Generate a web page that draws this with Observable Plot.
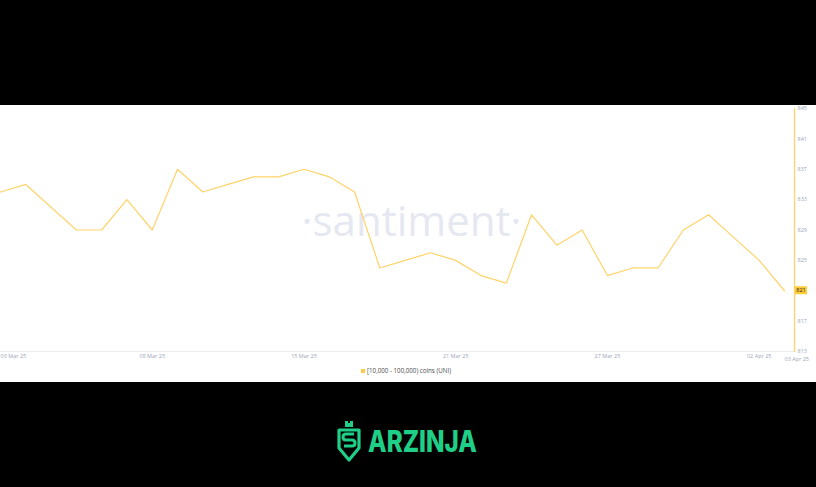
<!DOCTYPE html>
<html>
<head>
<meta charset="utf-8">
<script src="https://cdn.jsdelivr.net/npm/d3@7"></script>
<script src="https://cdn.jsdelivr.net/npm/@observablehq/plot@0.6"></script>
<style>
  html, body { margin: 0; padding: 0; background: #000; }
  body { width: 816px; height: 487px; overflow: hidden; position: relative; font-family: "Open Sans", "Noto Sans", sans-serif; }
  #panel { position: absolute; left: 0; top: 105px; width: 816px; height: 277px; background: #fff; }
  #chart svg { display: block; overflow: visible; }
  #legend { height: 17px; display: flex; align-items: center; justify-content: center; font-size: 6.2px; color: #4a4a4a; margin-left: -4px; }
  #legend .sw { width: 4px; height: 4px; background: #ffcb47; margin-right: 2px; }
  #logo { position: absolute; left: 0; top: 0; }
</style>
</head>
<body>
<div id="panel">
  <div id="chart"></div>
  <div id="legend"><span class="sw"></span><span id="legendText"></span></div>
</div>
<svg id="logo" width="816" height="487" viewBox="0 0 816 487"></svg>
<script>
// ---- data ----
const dates = [
  "2025-03-03","2025-03-04","2025-03-05","2025-03-06","2025-03-07","2025-03-08","2025-03-09","2025-03-10",
  "2025-03-11","2025-03-12","2025-03-13","2025-03-14","2025-03-15","2025-03-16","2025-03-17","2025-03-18",
  "2025-03-19","2025-03-20","2025-03-21","2025-03-22","2025-03-23","2025-03-24","2025-03-25","2025-03-26",
  "2025-03-27","2025-03-28","2025-03-29","2025-03-30","2025-03-31","2025-04-01","2025-04-02","2025-04-03"
];
const holders = [
  834, 835, 832, 829, 829, 833, 829, 837,
  834, 835, 836, 836, 837, 836, 834, 824,
  825, 826, 825, 823, 822, 831, 827, 829,
  823, 824, 824, 829, 831, 828, 825, 821
];
const seriesName = "[10,000 - 100,000) coins (UNI)";
const xTickDates = ["2025-03-09","2025-03-15","2025-03-21","2025-03-27","2025-04-02"];
const xFirstTick = ["2025-03-03"];
const xLastTick = ["2025-04-03"];
const yTicks = [813, 817, 821, 825, 829, 833, 837, 841, 845];
const yDomain = [813, 845];
const xDomain = ["2025-03-03T00:00Z", "2025-04-03T09:30Z"];
const watermark = "·santiment·";
const brand = "ARZINJA";

const data = dates.map((d, i) => ({date: new Date(d), value: holders[i]}));
const fmt = d3.utcFormat("%d %b %y");
const lineColor = "#ffd36a";
const labelColor = "#9ea5ba";

const chart = Plot.plot({
  width: 816,
  height: 257,
  marginLeft: 0,
  marginRight: 22,
  marginTop: 3,
  marginBottom: 11,
  style: {background: "transparent", fontFamily: "Open Sans, Noto Sans, sans-serif", overflow: "visible"},
  x: {type: "utc", domain: xDomain.map(d => new Date(d))},
  y: {domain: yDomain},
  marks: [
    Plot.text([watermark], {frameAnchor: "middle", dx: 14, dy: -7, fontSize: 42, fill: "#e5e8f1", fontWeight: 400, fontFamily: "Open Sans"}),
    Plot.frame({anchor: "bottom", stroke: "#ececec"}),
    Plot.frame({anchor: "right", stroke: "#ffd36a", strokeWidth: 1.3}),
    Plot.axisX({ticks: xTickDates.map(d => new Date(d)), tickFormat: fmt, tickSize: 0, tickPadding: 3, fontSize: 5.5, fill: labelColor, label: null}),
    Plot.axisX({ticks: xFirstTick.map(d => new Date(d)), tickFormat: fmt, tickSize: 0, tickPadding: 3, fontSize: 5.5, fill: labelColor, textAnchor: "start", label: null}),
    Plot.axisX({ticks: xLastTick.map(d => new Date(d)), tickFormat: fmt, tickSize: 0, tickPadding: 6, fontSize: 5.5, fill: labelColor, textAnchor: "start", label: null}),
    Plot.axisY({anchor: "right", ticks: yTicks, tickFormat: d => String(d), tickSize: 0, tickPadding: 3, fontSize: 5.5, fill: labelColor, label: null}),
    Plot.lineY(data, {x: "date", y: "value", stroke: lineColor, strokeWidth: 1.2})
  ]
});
document.getElementById("chart").appendChild(chart);
document.getElementById("legendText").textContent = seriesName;

// last-value highlight, positioned through the plot's scales
const last = data[data.length - 1];
const ys = chart.scale("y").apply(last.value);
const xr = chart.scale("x").range[1];
const svg = d3.select(chart);
const g = svg.append("g");
g.append("rect").attr("x", xr + 1).attr("y", ys - 4).attr("width", 12).attr("height", 8).attr("fill", "#ffcb3a");
g.append("text").attr("x", xr + 7).attr("y", ys).attr("dy", "0.35em").attr("text-anchor", "middle")
  .attr("font-size", 5.5).attr("fill", "#222").text(String(last.value));

// brand logo
const logo = d3.select("#logo");
const green = "#1fcf87";
const ig = logo.append("g").attr("transform", "translate(337,421)");
ig.append("path").attr("d", "M8,0 h3 v2 h2 v-2 h3 v6 h-8 z").attr("fill", green);
ig.append("path").attr("d", "M2,9 H22 V27 L12,39 L2,27 Z").attr("fill", "none").attr("stroke", green).attr("stroke-width", 3.2).attr("stroke-linejoin", "round");
ig.append("path").attr("d", "M17,13 H9 Q6,13 6,16 Q6,19 9,19 H15 Q18,19 18,22 Q18,25 15,25 H7").attr("fill", "none").attr("stroke", green).attr("stroke-width", 3);
logo.append("text").attr("x", 368).attr("y", 452).attr("fill", green)
  .attr("font-family", "Inter, Roboto, sans-serif").attr("font-weight", 800).attr("font-size", 30)
  .attr("textLength", 109).attr("lengthAdjust", "spacingAndGlyphs").text(brand);
</script>
</body>
</html>
